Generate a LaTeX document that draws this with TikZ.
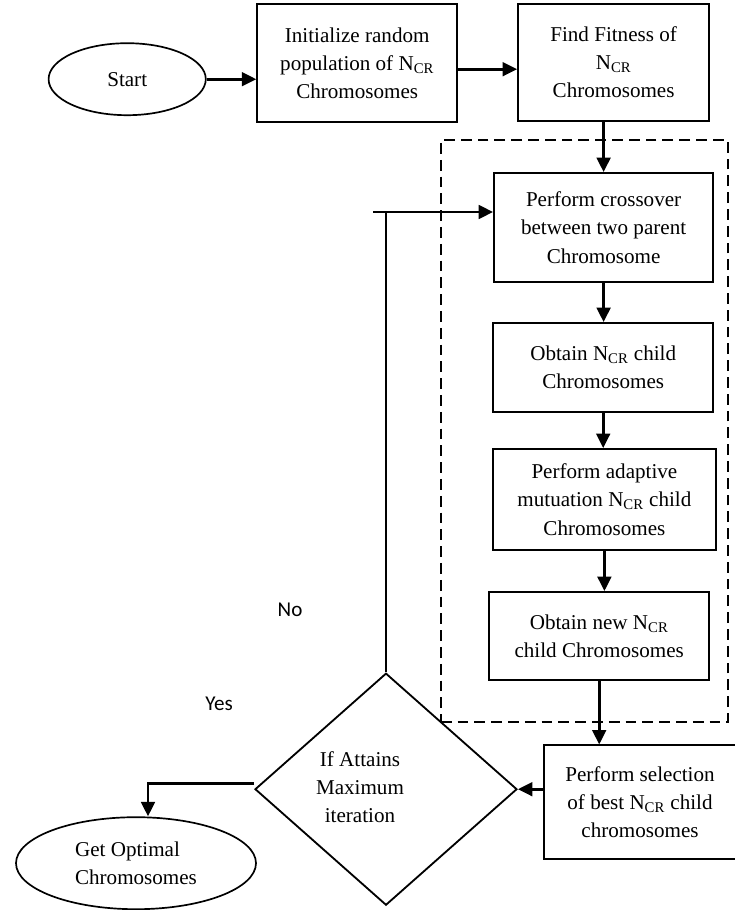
\documentclass[tikz,border=0pt]{standalone}
\usepackage{fontspec}
\setmainfont{Liberation Serif}
\newfontfamily\labelfont{Carlito}
\usetikzlibrary{arrows.meta, shapes.geometric, positioning, calc}
\newcommand{\ncr}{N\textsubscript{CR}}

\begin{document}
\begin{tikzpicture}[
    terminal/.style={
        ellipse, draw, line width=1.2pt, inner sep=0pt,
        align=center, font=\fontsize{15}{20}\selectfont
    },
    process/.style={
        rectangle, draw, line width=1.3pt, inner sep=2pt,
        align=center, font=\fontsize{15}{20}\selectfont
    },
    decision/.style={
        diamond, draw, line width=1.3pt, inner sep=0pt,
        font=\fontsize{15}{20}\selectfont
    },
    group/.style={
        rectangle, draw, line width=1.2pt,
        dash pattern=on 0.27cm off 0.15cm
    },
    >={Triangle[length=0.36cm, width=0.34cm]},
    flow/.style={->, line width=2pt},
    lbl/.style={font=\labelfont\fontsize{15}{18}\selectfont}
]
\useasboundingbox (0,0) rectangle (18.35,-22.75);

\node[terminal, minimum width=3.93cm, minimum height=1.8cm] (start) at (3.18, -1.98) {Start};
\node[process, minimum width=5cm, minimum height=2.95cm] (init) at (8.93, -1.58)
    {Initialize random\\population of \ncr\\Chromosomes};
\node[process, minimum width=4.78cm, minimum height=2.93cm] (fitness) at (15.34, -1.56)
    {Find Fitness of\\\ncr\\Chromosomes};

\node[group, minimum width=7.18cm, minimum height=14.55cm] (loopbox) at (14.61, -10.78) {};

\node[process, minimum width=5.48cm, minimum height=2.73cm] (cross) at (15.09, -5.69)
    {Perform crossover\\between two parent\\Chromosome};
\node[process, minimum width=5.5cm, minimum height=2.23cm] (child) at (15.08, -9.19)
    {Obtain \ncr{} child\\Chromosomes};
\node[process, minimum width=5.58cm, minimum height=2.53cm] (mutate) at (15.11, -12.49)
    {Perform adaptive\\mutuation \ncr{} child\\Chromosomes};
\node[process, minimum width=5.5cm, minimum height=2.2cm] (newchild) at (14.98, -15.9)
    {Obtain new \ncr\\child Chromosomes};
\node[process, minimum width=4.8cm, minimum height=2.85cm] (select) at (16.0, -20.06)
    {Perform selection\\of best \ncr{} child\\chromosomes};
\node[decision, minimum width=6.55cm, minimum height=5.8cm] (decide) at (9.65, -19.73)
    {\begin{tabular}{@{}c@{}}If Attains\\Maximum\\iteration\end{tabular}\hspace*{1.3cm}};
\node[terminal, minimum width=6cm, minimum height=2.3cm, align=left] (optimal) at (3.4, -21.58)
    {Get Optimal\\Chromosomes};

\node[lbl] (no)  at (7.25, -15.25) {No};
\node[lbl] (yes) at (5.48, -17.6)  {Yes};

\coordinate (loop) at (9.33, -5.3);

\draw[flow] (start.east) -- (start.east -| init.west);
\draw[flow] (init.east |- 0,-1.73) -- (fitness.west |- 0,-1.73);
\draw[flow] (fitness.south -| cross.north) -- (cross.north);
\draw[flow] (cross.south) -- (cross.south |- child.north);
\draw[flow] (child.south) -- (child.south |- mutate.north);
\draw[flow] (mutate.south) -- (mutate.south |- newchild.north);
\draw[flow] (newchild.south) -- (newchild.south |- select.north);
\draw[flow] (select.west |- decide.east) -- (decide.east);
\draw[line width=1.4pt] (decide.north) -- (decide.north |- loop);
\draw[flow] (loop) -- (loop -| cross.west);
\draw[flow] ([yshift=0.15cm]decide.west) -| ([xshift=0.3cm]optimal.north);

\end{tikzpicture}
\end{document}
